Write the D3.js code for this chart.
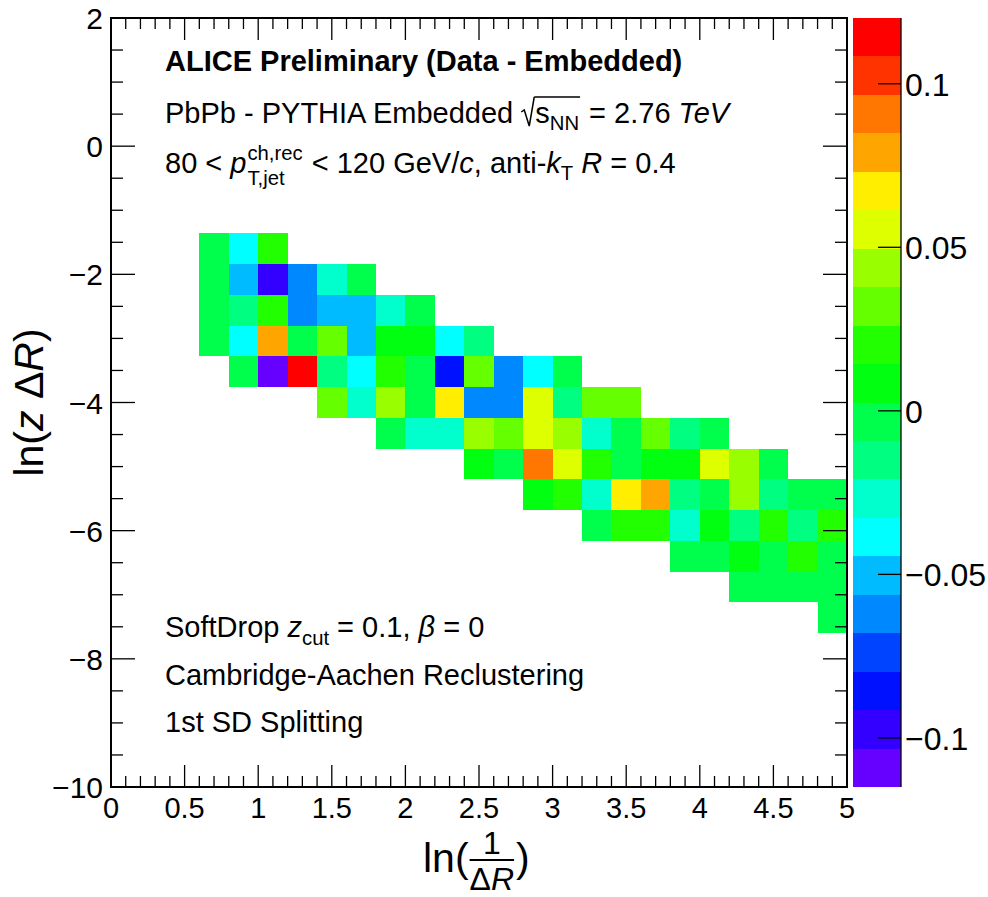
<!DOCTYPE html>
<html><head><meta charset="utf-8">
<script src="https://cdn.jsdelivr.net/npm/d3@7"></script>
<style>
html,body{margin:0;padding:0;background:#fff;}
svg{display:block;font-family:"Liberation Sans",Arial,Helvetica,sans-serif;}
svg text{white-space:pre;}
</style>
</head><body>
<svg id="c" width="988" height="897"></svg>
<script>
// ---------------- data ----------------
const xRange = [0, 5];
const yRange = [-10, 2];
const xBinWidth = 0.2;
const yBinWidth = 0.48;
// lower edge (in ln(z dR)) of each populated row of bins
const rowYLow = [-1.84, -2.32, -2.80, -3.28, -3.76, -4.24, -4.72, -5.20, -5.68, -6.16, -6.64, -7.12, -7.60];
// lower edge (in ln(1/dR)) of the first populated bin in each row
const rowXStart = [0.6, 0.6, 0.6, 0.6, 0.8, 1.4, 1.8, 2.4, 2.8, 3.2, 3.8, 4.2, 4.8];
// bin contents (Data - Embedded) of each row, left to right
const rowValues = [
  [-0.004, -0.038, 0.021],
  [-0.002, -0.051, -0.097, -0.063, -0.028, -0.005],
  [-0.003, -0.016, 0.019, -0.061, -0.049, -0.052, -0.026, -0.002],
  [-0.004, -0.040, 0.079, -0.006, 0.031, -0.050, 0.008, 0.009, -0.037, -0.014],
  [-0.003, -0.115, 0.1201, -0.015, -0.039, 0.020, -0.004, -0.086, 0.033, -0.062, -0.038, -0.002],
  [0.032, -0.027, 0.044, -0.003, 0.067, -0.060, -0.063, 0.056, -0.016, 0.030, 0.033],
  [-0.004, -0.026, -0.028, 0.043, 0.031, 0.055, 0.045, -0.027, -0.005, 0.032, -0.014, -0.003],
  [0.008, -0.004, 0.090, 0.054, 0.020, -0.003, 0.009, 0.007, 0.056, 0.044, -0.002],
  [0.009, 0.021, -0.026, 0.068, 0.078, -0.015, -0.004, 0.043, -0.016, -0.003, -0.004],
  [-0.003, 0.019, 0.020, -0.027, 0.008, -0.015, 0.021, -0.014, 0.020],
  [-0.004, -0.002, 0.008, -0.005, 0.019, -0.003],
  [-0.003, -0.004, -0.002, -0.003],
  [-0.004]
];
const xTickValues = [0, 0.5, 1, 1.5, 2, 2.5, 3, 3.5, 4, 4.5, 5];
const xTickLabels = ["0", "0.5", "1", "1.5", "2", "2.5", "3", "3.5", "4", "4.5", "5"];
const yTickValues = [-10, -8, -6, -4, -2, 0, 2];
const yTickLabels = ["\u221210", "\u22128", "\u22126", "\u22124", "\u22122", "0", "2"];
const zTickValues = [-0.1, -0.05, 0, 0.05, 0.1];
const zTickLabels = ["\u22120.1", "\u22120.05", "0", "0.05", "0.1"];
const paletteColors = ["#6600FF", "#3300FF", "#0011FF", "#0044FF", "#0088FF", "#00BBFF", "#00FFFF", "#00FFCC",
  "#00FF80", "#00FF4D", "#00FF11", "#22FF00", "#66FF00", "#99FF00", "#DDFF00", "#FFEE00",
  "#FFA500", "#FF7700", "#FF3300", "#FF0000"];

// ---------------- layout ----------------
const L = 111, R = 847, T = 18, B = 787;
const PL = 853, PR = 901;
const svg = d3.select("#c");
const x = d3.scaleLinear().domain(xRange).range([L, R]);
const y = d3.scaleLinear().domain(yRange).range([B, T]);

const allVals = rowValues.flat();
const zExt = d3.extent(allVals);
const color = d3.scaleQuantize().domain(zExt).range(paletteColors);
const z = d3.scaleLinear().domain(zExt).range([B, T]);

// cells
const cells = [];
rowValues.forEach((vals, r) => vals.forEach((v, i) => {
  cells.push({x0: rowXStart[r] + i * xBinWidth, y0: rowYLow[r], v});
}));
svg.append("g").selectAll("rect").data(cells).join("rect")
  .attr("x", d => x(d.x0))
  .attr("width", d => x(d.x0 + xBinWidth) - x(d.x0))
  .attr("y", d => y(d.y0 + yBinWidth))
  .attr("height", d => y(d.y0) - y(d.y0 + yBinWidth))
  .attr("fill", d => color(d.v))
  .attr("shape-rendering", "crispEdges");

// frame
const axG = svg.append("g").attr("stroke", "#000");
axG.append("rect").attr("x", L).attr("y", T).attr("width", R - L).attr("height", B - T)
  .attr("fill", "none").attr("stroke-width", 2);

const xMinor = d3.range(0, 50.5, 1).map(i => i / 10);
const yMinor = d3.range(0, 24.5, 1).map(i => -10 + i / 2);
const tickW = 1.3;
xMinor.forEach(v => {
  const major = Math.abs(v * 2 - Math.round(v * 2)) < 1e-6;
  const len = major ? 22 : 11;
  axG.append("line").attr("x1", x(v)).attr("x2", x(v)).attr("y1", B).attr("y2", B - len).attr("stroke-width", tickW);
  axG.append("line").attr("x1", x(v)).attr("x2", x(v)).attr("y1", T).attr("y2", T + len).attr("stroke-width", tickW);
});
yMinor.forEach(v => {
  const major = Math.abs(v / 2 - Math.round(v / 2)) < 1e-6;
  const len = major ? 24 : 12;
  axG.append("line").attr("y1", y(v)).attr("y2", y(v)).attr("x1", L).attr("x2", L + len).attr("stroke-width", tickW);
  axG.append("line").attr("y1", y(v)).attr("y2", y(v)).attr("x1", R).attr("x2", R - len).attr("stroke-width", tickW);
});

// tick labels
svg.append("g").selectAll("text").data(xTickValues).join("text")
  .attr("x", d => x(d)).attr("y", 818).attr("text-anchor", "middle").attr("font-size", 29)
  .text((d, i) => xTickLabels[i]);
svg.append("g").selectAll("text").data(yTickValues).join("text")
  .attr("x", 103).attr("y", d => y(d) + 11).attr("text-anchor", "end").attr("font-size", 30)
  .text((d, i) => yTickLabels[i]);

// palette
const nLev = paletteColors.length;
const dz = (zExt[1] - zExt[0]) / nLev;
svg.append("g").selectAll("rect").data(paletteColors).join("rect")
  .attr("x", PL).attr("width", PR - PL)
  .attr("y", (c, i) => z(zExt[0] + (i + 1) * dz))
  .attr("height", (c, i) => z(zExt[0] + i * dz) - z(zExt[0] + (i + 1) * dz))
  .attr("fill", c => c).attr("shape-rendering", "crispEdges");
svg.append("line").attr("x1", PR).attr("x2", PR).attr("y1", T).attr("y2", B).attr("stroke", "#000").attr("stroke-width", 1.3);
zTickValues.forEach((v, i) => {
  svg.append("line").attr("x1", PR - 23).attr("x2", PR).attr("y1", z(v)).attr("y2", z(v)).attr("stroke", "#000").attr("stroke-width", 1.3);
  svg.append("text").attr("x", PR + 4).attr("y", z(v) + 12).attr("font-size", 32).text(zTickLabels[i]);
});

// ---------------- rich text helper ----------------
function rich(x0, y0, segs, size) {
  let cx = x0;
  const g = svg.append("g");
  let sq = 0;
  function put(t, xx, yy, fs, it, bd) {
    const e = g.append("text").attr("x", xx).attr("y", yy).attr("font-size", fs)
      .attr("font-style", it ? "italic" : "normal").attr("font-weight", bd ? "bold" : "normal").text(t);
    return e.node().getComputedTextLength();
  }
  for (const s of segs) {
    if (s.stack) {
      const w1 = put(s.stack[0], cx + 1, y0 - 13, size * 0.7, false, false);
      const w2 = put(s.stack[1], cx + 1, y0 + 12, size * 0.7, false, false);
      cx += Math.max(w1, w2) + 2;
    } else if (s.sqrtStart) {
      g.append("path").attr("d", `M${cx},${y0 - 11} L${cx + 3},${y0 - 13} L${cx + 8},${y0 + 3} L${cx + 13},${y0 - 26}`)
        .attr("fill", "none").attr("stroke", "#000").attr("stroke-width", 1.5);
      sq = cx + 13;
      cx += 14;
    } else if (s.sqrtEnd) {
      g.append("line").attr("x1", sq).attr("x2", cx + 1).attr("y1", y0 - 26).attr("y2", y0 - 26)
        .attr("stroke", "#000").attr("stroke-width", 1.5);
      cx += 2;
    } else {
      const fs = s.sub || s.sup ? size * 0.7 : size;
      const dy = s.sub ? (s.dy || 7) : (s.sup ? -12 : 0);
      cx += put(s.t, cx, y0 + dy, fs, s.i, s.b);
    }
  }
  return cx;
}

const fs = 29;
rich(165, 71, [{t: "ALICE Preliminary (Data - Embedded)", b: true}], fs);
rich(165, 123, [{t: "PbPb - PYTHIA Embedded "}, {sqrtStart: true}, {t: "s"}, {t: "NN", sub: true, dy: 7}, {sqrtEnd: true},
  {t: " = 2.76 "}, {t: "TeV", i: true}], fs);
rich(165, 173, [{t: "80 < "}, {t: "p", i: true}, {stack: ["ch,rec", "T,jet"]}, {t: " < 120 GeV/"}, {t: "c", i: true},
  {t: ", anti-"}, {t: "k", i: true}, {t: "T", sub: true, dy: 7}, {t: " "}, {t: "R", i: true}, {t: " = 0.4"}], fs);
rich(165, 637, [{t: "SoftDrop "}, {t: "z", i: true}, {t: "cut", sub: true, dy: 8}, {t: " = 0.1, "}, {t: "\u03B2", i: true}, {t: " = 0"}], fs);
rich(165, 685, [{t: "Cambridge-Aachen Reclustering"}], fs);
rich(165, 732, [{t: "1st SD Splitting"}], fs);

// ---------------- axis titles ----------------
const yt = svg.append("text").attr("transform", `translate(43,${(T + B) / 2}) rotate(-90)`)
  .attr("text-anchor", "middle").attr("font-size", 41);
yt.append("tspan").text("ln(");
yt.append("tspan").attr("font-style", "italic").text("z");
yt.append("tspan").text(" \u0394");
yt.append("tspan").attr("font-style", "italic").text("R");
yt.append("tspan").text(")");

// x title: ln(1/ΔR) as a fraction
const xtSize = 41, frSize = 32, xtBase = 872, xt0 = 423;
function measure(parts, size) {
  const t = svg.append("text").attr("font-size", size);
  parts.forEach(p => t.append("tspan").attr("font-style", p.i ? "italic" : "normal").text(p.t));
  const w = t.node().getComputedTextLength();
  t.remove();
  return w;
}
const wLn = measure([{t: "ln("}], xtSize);
const wDen = measure([{t: "\u0394"}, {t: "R", i: true}], frSize);
const wNum = measure([{t: "1"}], frSize);
const fx = xt0 + wLn + 1;
const barY = 860;
const xt = svg.append("text").attr("font-size", xtSize);
xt.append("tspan").attr("x", xt0).attr("y", xtBase).text("ln(");
xt.append("tspan").attr("x", fx + (wDen - wNum) / 2).attr("y", 853.5).attr("font-size", frSize).text("1");
xt.append("tspan").attr("x", fx).attr("y", 889.5).attr("font-size", frSize).text("\u0394");
xt.append("tspan").attr("font-size", frSize).attr("font-style", "italic").text("R");
xt.append("tspan").attr("x", fx + wDen + 2).attr("y", xtBase).text(")");
svg.append("line").attr("x1", fx).attr("x2", fx + wDen).attr("y1", barY).attr("y2", barY)
  .attr("stroke", "#000").attr("stroke-width", 2);
</script>
</body></html>
